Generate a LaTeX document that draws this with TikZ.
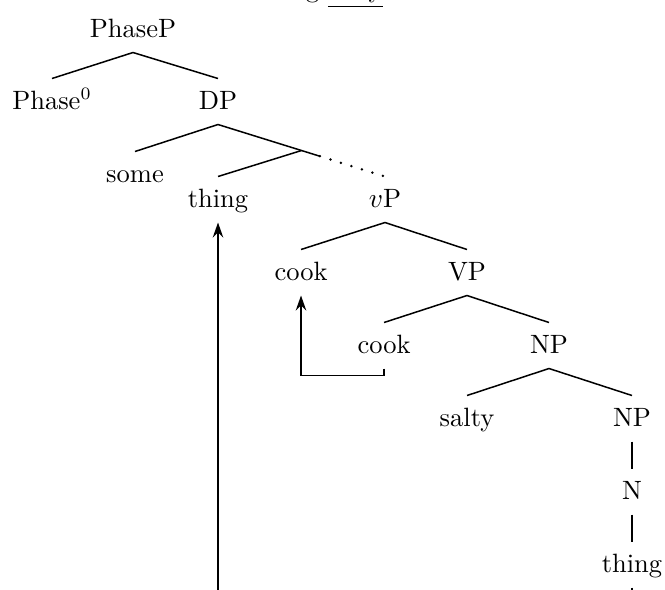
\documentclass[tikz,border=0pt]{standalone}
\usepackage{amsmath}
\usepackage{tikz}
\usetikzlibrary{arrows.meta,calc}

\begin{document}
\begin{tikzpicture}[x=0.4pt, y=-0.4pt,
        every node/.style={font=\fontsize{10.6}{12.7}\selectfont},
        cat/.style={anchor=base, inner xsep=0pt, inner ysep=4pt, text height=8pt, text depth=2pt},
        branch/.style={semithick},
        dotbranch/.style={line width=1.1pt, line cap=round, dash pattern=on 0pt off 4.4pt},
        move/.style={semithick, -{Stealth[length=6pt, width=4.2pt, inset=2pt]}}]
    \useasboundingbox (0,0) rectangle (665,589);

    % Example sentence (cut off at the top)
    \node[anchor=base east, inner sep=0pt] (sent) at (383,-3) {something \underline{salty}};

    % PhaseP
    \node[cat] (PhaseP) at (133,37) {PhaseP};
    \node[cat] (Phase0) at (52,109) {Phase$^0$};
    \node[cat] (DP) at (218,109) {DP};

    % DP
    \node[cat] (some) at (135,182) {some};
    \node[cat] (thing1) at (218,207) {thing};
    \node[cat] (vP) at (385,207) {$v$P};

    % vP
    \node[cat] (cook1) at (301,280) {cook};
    \node[cat] (VP) at (467,280) {VP};

    % VP
    \node[cat] (cook2) at (384,353) {cook};
    \node[cat] (NP1) at (549,353) {NP};

    % NP
    \node[cat] (salty) at (467,426) {salty};
    \node[cat] (NP2) at (632,426) {NP};
    \node[cat] (N) at (632,499) {N};
    \node[cat] (thing2) at (632,572) {thing};

    % Branches
    \draw[branch] (PhaseP.south) -- (Phase0.north);
    \draw[branch] (PhaseP.south) -- (DP.north);
    \draw[branch] (DP.south) -- (some.north);
    \coordinate (Dbar) at ($(DP.south)!0.5!(vP.north)$);
    \draw[branch] (DP.south) -- ($(DP.south)!0.61!(vP.north)$) coordinate (Ddots);
    \draw[dotbranch] (Ddots) -- (vP.north);
    \draw[branch] (Dbar) -- (thing1.north);
    \draw[branch] (vP.south) -- (cook1.north);
    \draw[branch] (vP.south) -- (VP.north);
    \draw[branch] (VP.south) -- (cook2.north);
    \draw[branch] (VP.south) -- (NP1.north);
    \draw[branch] (NP1.south) -- (salty.north);
    \draw[branch] (NP1.south) -- (NP2.north);
    \draw[branch] (NP2.south) -- (N.north);
    \draw[branch] (N.south) -- (thing2.north);

    % Movement
    \draw[move] (cook2.south) -- ++(0,7) -| (cook1.south);
    \draw[move] (thing2.south) -- ++(0,40) -| (thing1.south);
\end{tikzpicture}
\end{document}
